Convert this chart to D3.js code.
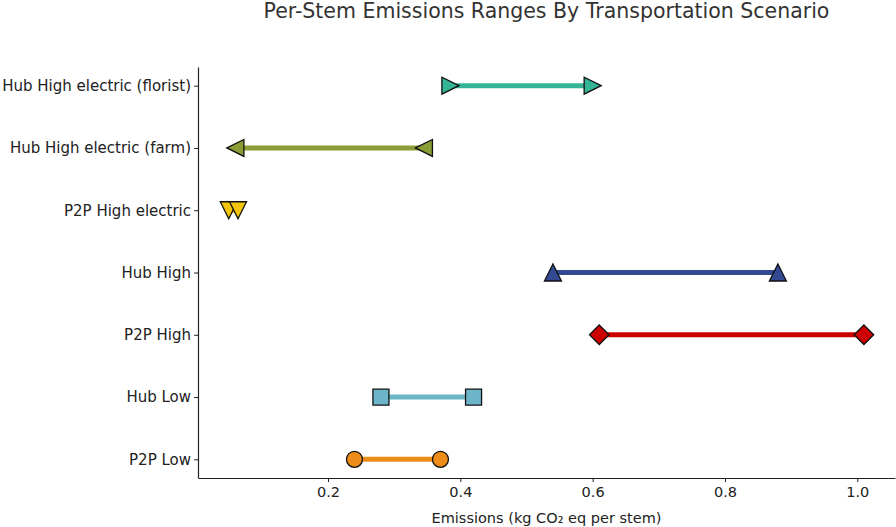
<!DOCTYPE html>
<html>
<head>
<meta charset="utf-8">
<script src="https://cdn.jsdelivr.net/npm/d3@7"></script>
<style>
  body { margin: 0; background: #fff; }
  text { font-family: "DejaVu Sans", sans-serif; }
</style>
</head>
<body>
<div id="my_dataviz"></div>
<script>
// data, bottom row first
const scenarios = ["P2P Low", "Hub Low", "P2P High", "Hub High", "P2P High electric", "Hub High electric (farm)", "Hub High electric (florist)"];
const lowValues = [0.24, 0.28, 0.61, 0.54, 0.05, 0.06, 0.385];
const highValues = [0.37, 0.42, 1.01, 0.88, 0.064, 0.345, 0.60];
const colors = ["#ee8c1a", "#6db6c9", "#cc0000", "#334a92", "#f2c40c", "#8a9e35", "#35b597"];
const markers = ["circle", "square", "diamond", "triangleUp", "triangleDown", "triangleLeft", "triangleRight"];
const xTicks = [0.2, 0.4, 0.6, 0.8, 1.0];

const width = 896, height = 527;
const margin = {top: 67, right: 1, bottom: 49, left: 198};

const svg = d3.select("#my_dataviz")
  .append("svg")
    .attr("width", width)
    .attr("height", height);

const x = d3.scaleLinear()
  .domain([0.0035, 1.057])
  .range([margin.left, width - margin.right]);

const y = d3.scaleLinear()
  .domain([-0.3, scenarios.length - 1 + 0.3])
  .range([height - margin.bottom, margin.top]);

// axes
svg.append("g")
  .attr("transform", `translate(0, ${height - margin.bottom})`)
  .call(d3.axisBottom(x).tickValues(xTicks).tickFormat(d3.format(".1f")).tickSize(4).tickPadding(5).tickSizeOuter(0))
  .call(g => g.selectAll("text").attr("font-size", 14.5).attr("fill", "#222"))
  .call(g => g.select(".domain").attr("stroke", "#222").attr("stroke-width", 1.2))
  .call(g => g.selectAll(".tick line").attr("stroke", "#222"));

svg.append("g")
  .attr("transform", `translate(${margin.left}, 0)`)
  .call(d3.axisLeft(y).tickValues(d3.range(scenarios.length)).tickFormat(i => scenarios[i]).tickSize(4).tickPadding(3).tickSizeOuter(0))
  .call(g => g.selectAll("text").attr("font-size", 15).attr("fill", "#222"))
  .call(g => g.select(".domain").attr("stroke", "#222").attr("stroke-width", 1.2))
  .call(g => g.selectAll(".tick line").attr("stroke", "#222"));

// range lines
svg.append("g")
  .selectAll("line")
  .data(scenarios)
  .join("line")
    .attr("x1", (d, i) => x(lowValues[i]))
    .attr("x2", (d, i) => x(highValues[i]))
    .attr("y1", (d, i) => y(i))
    .attr("y2", (d, i) => y(i))
    .attr("stroke", (d, i) => colors[i])
    .attr("stroke-width", 5);

// marker shapes
function markerPath(kind) {
  const s = 8.5;
  switch (kind) {
    case "circle": return d3.symbol(d3.symbolCircle, Math.PI * 8 * 8)();
    case "square": return `M${-8},${-8}H8V8H-8Z`;
    case "diamond": return `M0,${-s * 1.15}L${s * 1.15},0L0,${s * 1.15}L${-s * 1.15},0Z`;
    case "triangleUp": return `M0,${-s}L${s},${s}L${-s},${s}Z`;
    case "triangleDown": return `M0,${s}L${s},${-s}L${-s},${-s}Z`;
    case "triangleLeft": return `M${-s},0L${s},${-s}L${s},${s}Z`;
    case "triangleRight": return `M${s},0L${-s},${-s}L${-s},${s}Z`;
  }
}

const points = [];
scenarios.forEach((d, i) => {
  points.push({i: i, v: lowValues[i]});
  points.push({i: i, v: highValues[i]});
});

svg.append("g")
  .selectAll("path")
  .data(points)
  .join("path")
    .attr("d", d => markerPath(markers[d.i]))
    .attr("transform", d => `translate(${x(d.v)}, ${y(d.i)})`)
    .attr("fill", d => colors[d.i])
    .attr("stroke", "#111")
    .attr("stroke-width", 1.3);

// title
svg.append("text")
  .attr("x", (margin.left + width - margin.right) / 2)
  .attr("y", 18)
  .attr("text-anchor", "middle")
  .attr("font-size", 20.5)
  .attr("fill", "#333")
  .text("Per-Stem Emissions Ranges By Transportation Scenario");

// x label
svg.append("text")
  .attr("x", (margin.left + width - margin.right) / 2)
  .attr("y", 523)
  .attr("text-anchor", "middle")
  .attr("font-size", 14.5)
  .attr("fill", "#222")
  .text("Emissions (kg CO₂ eq per stem)");
</script>
</body>
</html>
